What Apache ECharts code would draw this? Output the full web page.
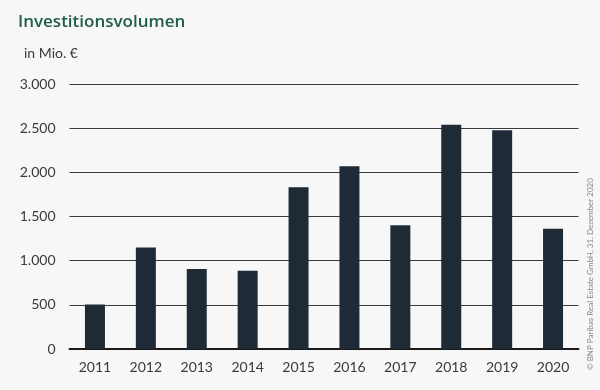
<!DOCTYPE html>
<html>
<head>
<meta charset="utf-8">
<script src="https://cdn.jsdelivr.net/npm/echarts@6/dist/echarts.min.js"></script>
<style>
html,body{margin:0;padding:0;background:#f7f7f7;}
#c{width:600px;height:390px;}
</style>
</head>
<body>
<div id="c"></div>
<script>
const categories = ['2011','2012','2013','2014','2015','2016','2017','2018','2019','2020'];
const values = [505, 1150, 906, 886, 1830, 2068, 1400, 2539, 2476, 1362];
const yTicks = [0, 500, 1000, 1500, 2000, 2500, 3000];

const chart = echarts.init(document.getElementById('c'), null, {renderer: 'canvas'});
const fmt = v => v === 0 ? '0' : String(v).replace(/\B(?=(\d{3})+(?!\d))/g, '.');
chart.setOption({
  backgroundColor: '#f7f7f7',
  animation: false,
  textStyle: {fontFamily: 'Lato, "Open Sans", sans-serif'},
  title: [{
    text: 'Investitionsvolumen',
    left: 13, top: 9,
    textStyle: {fontSize: 17, fontWeight: 600, color: '#1f5c4a', fontFamily: '"Open Sans", sans-serif'}
  }, {
    text: 'in Mio. €',
    left: 19, top: 41,
    textStyle: {fontSize: 14, fontWeight: 'normal', color: '#3a3a3a', fontFamily: 'Lato, sans-serif'}
  }],
  graphic: [{
    type: 'text',
    x: 590, y: 370, rotation: Math.PI / 2,
    style: {text: '© BNP Paribas Real Estate GmbH, 31. Dezember 2020', fill: '#888', fontSize: 8, fontFamily: 'Lato, sans-serif', textAlign: 'left', textVerticalAlign: 'middle'}
  }],
  grid: {left: 69.5, right: 21.5, top: 84, bottom: 41, containLabel: false},
  xAxis: {
    type: 'category',
    data: categories,
    axisLine: {lineStyle: {color: '#1b1b1b', width: 2}},
    axisTick: {show: false},
    axisLabel: {color: '#3a3a3a', fontSize: 14, margin: 11, fontFamily: 'Lato, sans-serif'}
  },
  yAxis: {
    type: 'value',
    min: yTicks[0], max: yTicks[yTicks.length - 1], interval: 500,
    axisLine: {show: false},
    axisTick: {show: false},
    splitLine: {lineStyle: {color: '#3a3a3a', width: 1}},
    axisLabel: {color: '#3a3a3a', fontSize: 14, margin: 14, formatter: fmt, fontFamily: 'Lato, sans-serif'}
  },
  series: [{
    type: 'bar',
    data: values,
    barWidth: 20,
    itemStyle: {color: '#1e2b36'}
  }]
});
</script>
</body>
</html>
